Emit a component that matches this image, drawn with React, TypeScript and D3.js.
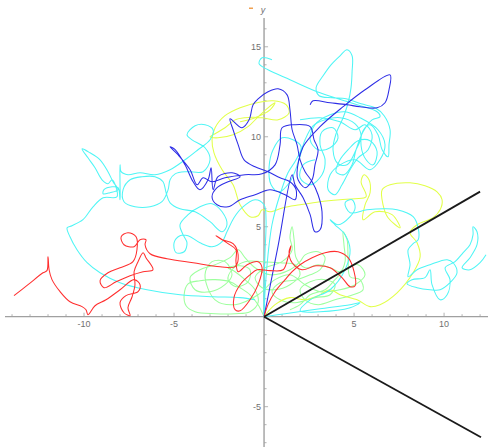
import React, { useEffect, useRef } from 'react';
import * as d3 from 'd3';

type Pt = [number, number];

// traced walks (x, y in plot units)
const redPath: Pt[] = [
  [0, 0], [0.22, 0.67], [0.61, 1.39], [1.17, 2.06], [1.56, 2.5], [2, 2.89], [2.67, 3.28], [3.39, 3.56], [4.11, 3.61],
  [4.67, 3.28], [5, 2.5], [5.06, 1.72], [4.78, 1.67], [4.33, 2.17], [3.67, 2.72], [2.89, 2.83], [2.11, 2.61], [1.56, 3],
  [1.39, 3.61], [1.5, 3.94], [1.33, 3.28], [1.06, 2.61], [0.33, 2.56], [-0.39, 2.61], [-0.78, 2.33], [-1.33, 1.78],
  [-1.67, 1.06], [-1.61, 0.39], [-1.33, 0.33], [-0.78, 0.94], [-0.33, 1.78], [-0.11, 2.72], [-0.33, 3.06], [-0.94, 2.89],
  [-1.44, 2.5], [-1.56, 3.06], [-1.56, 3.72], [-2, 4.06], [-2.67, 4.5], [-2.33, 4.28], [-1.72, 4.06], [-1.44, 3.44],
  [-1.61, 2.78], [-2.44, 2.78], [-3.94, 3], [-5.39, 3.22], [-6.33, 3.5], [-6.61, 4], [-6.56, 4.28], [-6.89, 4.28],
  [-7.22, 3.89], [-7.78, 4], [-7.94, 4.44], [-7.56, 4.67], [-7.11, 4.44], [-7.06, 3.72], [-7.28, 3.06], [-8, 2.72],
  [-8.67, 2.44], [-9.11, 2], [-8.89, 1.61], [-8.22, 1.94], [-7.44, 2.28], [-6.72, 2.5], [-6.17, 2.61], [-6.56, 3.28],
  [-6.72, 3.56], [-7, 3.06], [-7.22, 2.5], [-7.17, 1.78], [-7.33, 1.11], [-7.56, 0.5], [-7.44, 0.06], [-7.78, 0.22],
  [-8, 0.78], [-7.67, 1.17], [-7, 1.39], [-6.89, 1.78], [-7.22, 2.06], [-8, 1.5], [-8.78, 0.94], [-9.39, 0.61],
  [-9.78, 0.11], [-9.89, 0.39], [-10.11, 0.56], [-10.78, 0.83], [-11.33, 1.39], [-11.78, 2.06], [-11.94, 2.61],
  [-12, 3.33], [-12.06, 2.56], [-12.28, 2.44], [-13.11, 1.78], [-13.89, 1.17],
];

const bluePath: Pt[] = [
  [0, 0], [0.78, 3.94], [1.56, 7.89], [1.72, 7.33], [2.17, 6.61], [2.56, 5.67], [2.83, 4.72], [3.11, 4.83], [3.22, 5.83],
  [3, 6.78], [2.67, 7.5], [2.28, 8.06], [2, 8.72], [1.83, 9.56], [1.56, 10.39], [1.44, 11.5], [1.28, 12.33], [0.78, 12.67],
  [0.22, 12.5], [-0.33, 12.11], [-0.61, 11.78], [-0.83, 10.94], [-1.22, 10.5], [-1.89, 11], [-1.72, 10.39], [-1.44, 9.56],
  [-1.11, 8.72], [-0.5, 8.33], [0.22, 8.06], [0.89, 7.72], [1.44, 7.5], [1.78, 7.06], [1.72, 6.5], [1.17, 6.78],
  [0.33, 7.06], [-0.5, 6.78], [-1.33, 6.5], [-2, 6.11], [-2.61, 6.22], [-2.89, 6.67], [-2.61, 7.17], [-2, 7.5],
  [-1.33, 7.78], [-1.78, 8], [-2.56, 7.78], [-2.83, 7.06], [-2.94, 8.28], [-3.11, 7.61], [-3.56, 7.06], [-3.94, 7.5],
  [-4.39, 8.44], [-4.94, 9.28], [-5.22, 9.44], [-4.78, 9], [-4.11, 8.17], [-3.72, 7.33], [-3.39, 7.72], [-2.89, 7.5],
  [-2.17, 7.72], [-1.06, 7.89], [-0.11, 7.94], [0.61, 8.44], [0.89, 9.56], [1, 10.5], [1.72, 10.67], [2.56, 10.56],
  [2.78, 9.83], [3, 9.28], [2.83, 8.44], [2.67, 7.61], [2.28, 7.17], [1.89, 7.61], [1.83, 8], [2.17, 9.44], [3.11, 10.56],
  [4.39, 11.67], [5.61, 12.61], [7, 13.44], [6.94, 12.61], [6.72, 11.89], [6.28, 11.61], [5.33, 11.67], [4.61, 11.78],
  [3.67, 11.89], [2.72, 12], [2.56, 11.78],
];

const yellowPath: Pt[] = [
  [0, 0], [0.61, 0.67], [1.44, 1.06], [2.28, 0.94], [3, 1.17], [3.67, 1.5], [4.22, 1.22], [5.17, 0.94], [5.89, 0.56],
  [6.44, 0.67], [7.39, 1.33], [8.28, 2.44], [8.67, 3.33], [8.5, 4.11], [8.11, 4.67], [8.5, 5.11], [9.39, 5.5], [9.78, 5.94],
  [9.89, 6.5], [9.61, 6.94], [8.94, 7.28], [8.11, 7.44], [7, 7.33], [6.56, 7.06], [6.61, 6.22], [6.89, 5.5], [7.56, 4.94],
  [7.11, 5.67], [6.17, 5.83], [5.5, 5.39], [5.61, 6.22], [5.89, 6.89], [5.83, 7.61], [5.56, 7.89], [5.39, 7.5],
  [5.67, 6.67], [5.06, 6.56], [4.22, 6.5], [3.11, 6.39], [2, 6.22], [1.06, 6.06], [0.33, 5.83], [-0.11, 5.94],
  [-0.33, 5.61], [-0.78, 5.56], [-1.33, 6.22], [-1.72, 7.33], [-2.33, 8.17], [-2.78, 9.11], [-2.89, 9.83], [-2.72, 10.5],
  [-2.17, 11.17], [-1.33, 11.61], [-0.39, 11.89], [0.5, 12], [1.22, 11.78], [1.39, 11.33], [0.78, 10.94], [-0.11, 11.06],
  [-1.06, 11.06], [-1.61, 10.94], [-2.17, 10.5], [-2.72, 10.17], [-3, 10], [-2.56, 9.94], [-1.72, 10.11], [-0.89, 10.56],
  [-0.33, 11.11], [0.22, 11.61], [0.61, 11.89], [0.33, 11.5], [-0.5, 11.06], [-1.33, 10.83],
];

const cyanLeftPath: Pt[] = [
  [0, 0], [0, 1.78], [0.06, 3.72], [0.11, 5.39], [0, 6.22], [-0.5, 6.5], [-1.22, 6.06], [-1.67, 5.5], [-2.06, 4.72],
  [-2.33, 4.17], [-2.89, 3.89], [-3.56, 4.11], [-4.22, 4.5], [-4.67, 4.5], [-5, 4.11], [-4.89, 3.56], [-4.44, 3.61],
  [-4.28, 4.11], [-4.5, 4.56], [-4.67, 5.11], [-4.22, 5.67], [-3.56, 6.11], [-2.89, 6.28], [-2.33, 5.83], [-2.06, 5.11],
  [-2.33, 4.72], [-3, 5.28], [-3.83, 5.83], [-4.67, 6], [-5.22, 6.33], [-5.44, 6.89], [-5.61, 7.5], [-6.06, 7.78],
  [-6.78, 7.78], [-7.44, 7.61], [-7.83, 7.06], [-7.78, 6.39], [-7.17, 6.11], [-6.33, 6.11], [-5.67, 6.39], [-5.33, 7.06],
  [-5.22, 7.61], [-4.94, 7.94], [-4.28, 8.06], [-3.39, 8.06], [-3, 8.72], [-3.28, 9.39], [-4, 9.83], [-4.28, 10.11],
  [-3.83, 10.61], [-3.28, 10.67], [-2.83, 10.39], [-3, 9.83], [-3.67, 9.28], [-4.39, 8.72], [-5.22, 8.17], [-6.06, 7.89],
  [-6.89, 8], [-7.56, 7.89], [-7.94, 8.06], [-8, 8.44], [-8, 7.33], [-8, 6.5], [-8.11, 7.17], [-8.44, 7.22], [-8.89, 7.06],
  [-8.94, 6.83], [-8.56, 6.89], [-8.11, 7.06], [-8.39, 7.5], [-8.67, 8.06], [-9.11, 8.72], [-9.67, 9.11], [-10.11, 9.33],
  [-9.78, 8.83], [-9.39, 8.28], [-9, 7.61], [-8.67, 7.39], [-8.44, 7.61], [-8.17, 6.67], [-8.94, 6.61], [-9.5, 6.11],
  [-10.06, 5.39], [-10.67, 5.06], [-10.94, 4.94], [-10.78, 4.44], [-10.39, 3.72], [-9.83, 3], [-9.11, 2.44], [-8, 1.89],
  [-6.5, 1.5], [-4.67, 1.22], [-2.83, 1.11], [-1.33, 1.06], [-0.5, 0.94],
];

const cyanTopPath: Pt[] = [
  [0, 0], [0.06, 1.5], [0.22, 3.44], [0.44, 5.11], [0.83, 6.61], [1.33, 8], [1.78, 8.72], [2.06, 9.44], [1.61, 9.83],
  [1, 9.94], [0.5, 9.28], [0.28, 8.33], [0.39, 7.33], [0.83, 6.94], [1.44, 7.5], [1.89, 8.56], [2.28, 9.83], [2.72, 10.61],
  [3.39, 10.94], [4.22, 11.06], [5.06, 10.72], [5.39, 10.06], [5.11, 9.28], [4.61, 8.44], [4.11, 8.5], [3.83, 9.28],
  [4, 10.17], [4.39, 11.06], [4.67, 11.89], [4.83, 12.72], [4.89, 13.61], [4.89, 14.5], [4.61, 14.83], [4.22, 14.5],
  [3.72, 14], [3.28, 13.39], [2.89, 12.72], [3.06, 12.28], [3.78, 12.17], [4.56, 12.11], [5.39, 11.83], [6.17, 11.61],
  [6.67, 11.17], [7, 10.39], [6.94, 9.56], [6.89, 8.89], [6.56, 9.28], [6.33, 10.11], [5.89, 10.67], [5.5, 10.33],
  [5.39, 9.5], [5.67, 8.72], [6.06, 8.44], [6.28, 9.17], [5.89, 9.78], [5.22, 9.78], [4.67, 9.28], [4.22, 8.72], [4, 8.06],
  [4.44, 7.89], [4.89, 8.44], [5.11, 9.28], [5.5, 10.28], [6, 10.94], [6.44, 11.11], [6.28, 11.39], [5.17, 11.78],
  [3.11, 12.44], [1.44, 13.17], [0.22, 13.72], [-0.28, 14.06], [-0.11, 14.39], [0.44, 14.28],
];

const cyanClusterPath: Pt[] = [
  [2, 10.94], [3.11, 11.06], [4.22, 10.83], [5.06, 10.39], [5.61, 10.67], [6, 10.11], [5.78, 9.28], [5.22, 8.83],
  [4.78, 8.17], [4.33, 7.33], [3.94, 6.78], [3.56, 7.06], [3.67, 7.89], [4.22, 8.44], [5.06, 8.72], [5.89, 8.17],
  [6.44, 8.72], [6.72, 9.56], [6.33, 10.39], [5.33, 11.06], [4.5, 11.39], [3.67, 11.22], [2.83, 10.67], [2.56, 9.83],
  [3, 9.28], [3.67, 9.39], [4.11, 9.94], [3.83, 10.5], [3.22, 10.28], [3.11, 9.56], [3.39, 8.72], [3.22, 7.89],
  [2.56, 7.33], [2, 7.72], [2.17, 8.44], [2.83, 8.72],
];

const cyanRightPath: Pt[] = [
  [0, 0], [1.17, 0.17], [3.11, 0.44], [4.78, 0.67], [5.33, 0.78], [4.78, 0.5], [3.11, 0.28], [2, 0.33], [2.56, 0.94],
  [3.67, 1.5], [4.5, 2.61], [4.78, 3.72], [4.5, 4.56], [3.94, 5.11], [3.67, 5.39], [4.11, 5.11], [4.78, 5.56], [5.06, 6.06],
  [4.89, 6.5], [4.5, 6.33], [4.78, 5.78], [5.72, 5.94], [6.72, 6], [7.39, 5.94], [8.28, 5.56], [8.56, 4.94], [8.56, 4.28],
  [8.28, 4.06], [8, 3.72], [8.11, 2.89], [8, 2.22], [8.5, 2.61], [9.22, 2.89], [10.17, 3.17], [10.5, 3], [10.72, 2.44],
  [10.33, 1.89], [9.78, 1.5], [9.22, 1.5], [8.5, 1.61], [7.94, 1.83], [8.22, 2.06], [8.94, 2.17], [9.22, 2.61],
  [9.33, 1.78], [9.78, 0.94], [10.17, 1.22], [10.33, 2.06], [10.06, 2.72], [10.61, 3.06], [11.06, 3.56], [11.44, 4],
  [11.61, 4.56], [11.61, 5], [11.83, 4.72], [11.83, 4], [11.44, 3.28], [11, 2.72], [11.44, 2.61], [12, 3], [12.33, 3.44],
];

const greenPath: Pt[] = [
  [0, 0], [-0.33, 0.67], [-0.78, 1.22], [-1.33, 1.61], [-1.89, 1.94], [-2.72, 2.06], [-3.56, 2], [-4.22, 1.83],
  [-4.44, 1.22], [-4.33, 0.61], [-3.83, 0.28], [-2.72, 0.17], [-1.61, 0.17], [-0.78, 0.28], [-0.33, 0.78], [-0.5, 1.5],
  [-1.06, 2.06], [-1.61, 2.5], [-2, 2.72], [-1.33, 2.83], [-0.78, 2.61], [-0.89, 1.94], [-1.56, 1.67], [-2, 2.06],
  [-1.78, 2.61], [-1.06, 3.06], [-0.11, 3.06], [0.89, 3], [1.72, 2.89], [2, 2.33], [1.44, 1.78], [0.61, 1.5], [-0.11, 1.61],
  [-0.5, 2.17], [0.06, 2.72], [1, 3.06], [1.56, 3.72], [1.44, 4.39], [1.56, 5], [1.67, 4.28], [1.78, 3.28], [2.28, 2.72],
  [3, 2.89], [3.67, 2.72], [4.22, 2.5], [4.5, 3.06], [4.44, 4], [4.39, 4.72], [4.61, 4.28], [4.67, 3.17], [4.78, 2.22],
  [5.33, 2.06], [5.5, 1.5], [4.78, 1.17], [3.94, 0.94], [3, 0.67], [2.28, 0.94], [2, 1.5], [2.56, 1.94], [3.39, 2.06],
  [3.94, 1.78], [3.67, 1.22], [2.83, 1.06], [1.72, 0.78], [0.89, 0.94], [0.44, 1.39], [0.89, 1.89], [1.83, 2.06],
  [2.56, 2.33], [3.11, 2.61], [3.39, 3.28], [3, 3.61], [2.28, 3.44], [2, 3.06], [1.44, 2.61], [0.33, 2.33], [-0.5, 2.72],
  [-1.06, 3.28], [-1.44, 3.72], [-1.89, 3.28], [-2.72, 2.89], [-3.56, 2.61], [-4.11, 2.17], [-3.83, 1.5], [-3, 1.39],
  [-2.17, 1.78], [-1.78, 2.33], [-2.17, 3.06], [-2.89, 3.06], [-3.28, 2.33], [-2.72, 0.94], [-1.61, 0.67], [-0.33, 1.22],
  [0.61, 2.06], [1.44, 2.33], [2.28, 1.78], [3.11, 1.39], [4.22, 1.5], [5.06, 1.78], [5.61, 2.33], [5.22, 2.89],
  [4.5, 2.61], [3.94, 2.06], [3.39, 1.5], [2.56, 1.22], [2, 0.67], [1.44, 0.39],
];

const rayEnds: Pt[] = [[12, 6.95], [12.05, -6.7]];

const xTicks = [-10, -5, 5, 10];
const yTicks = [15, 10, 5, -5];

const walks = [
  { pts: greenPath, color: '#9dff9d' },
  { pts: yellowPath, color: '#e2ff48' },
  { pts: cyanLeftPath, color: '#4ff5f5' },
  { pts: cyanTopPath, color: '#4ff5f5' },
  { pts: cyanClusterPath, color: '#4ff5f5' },
  { pts: cyanRightPath, color: '#4ff5f5' },
  { pts: bluePath, color: '#2d2de6' },
  { pts: redPath, color: '#ff2e2e' },
];

const W = 488;
const H = 447;

export default function App() {
  const ref = useRef<SVGSVGElement>(null);

  useEffect(() => {
    const svg = d3.select(ref.current);
    svg.selectAll('*').remove();

    const x = d3.scaleLinear().domain([-14.39, 12.44]).range([5, 488]);
    const y = d3.scaleLinear().domain([-7.24, 16.6]).range([447, 18]);

    const axisColor = '#a0a0a0';
    const labelFont = '"Liberation Sans", Arial, sans-serif';

    // axes
    svg.append('line')
      .attr('x1', x(-14.39)).attr('x2', x(12.44))
      .attr('y1', y(0)).attr('y2', y(0))
      .attr('stroke', axisColor).attr('stroke-width', 1.2);
    svg.append('line')
      .attr('x1', x(0)).attr('x2', x(0))
      .attr('y1', y(16.6)).attr('y2', y(-7.24))
      .attr('stroke', axisColor).attr('stroke-width', 1.4);

    // minor + major ticks
    d3.range(-14, 13).filter((v) => v !== 0).forEach((v) => {
      const len = v % 5 === 0 ? 4 : 2.5;
      svg.append('line')
        .attr('x1', x(v)).attr('x2', x(v))
        .attr('y1', y(0)).attr('y2', y(0) - len)
        .attr('stroke', axisColor).attr('stroke-width', 0.8);
    });
    d3.range(-7, 17).filter((v) => v !== 0).forEach((v) => {
      const len = v % 5 === 0 ? 4 : 2.5;
      svg.append('line')
        .attr('x1', x(0)).attr('x2', x(0) + len)
        .attr('y1', y(v)).attr('y2', y(v))
        .attr('stroke', axisColor).attr('stroke-width', 0.8);
    });

    svg.selectAll('.xt').data(xTicks).enter().append('text')
      .attr('x', (d) => x(d)).attr('y', y(0) + 10)
      .attr('text-anchor', 'middle')
      .attr('font-family', labelFont).attr('font-size', 9)
      .attr('fill', '#707070')
      .text((d) => String(d));
    svg.selectAll('.yt').data(yTicks).enter().append('text')
      .attr('x', x(0) - 3).attr('y', (d) => y(d) + 3)
      .attr('text-anchor', 'end')
      .attr('font-family', labelFont).attr('font-size', 9)
      .attr('fill', '#707070')
      .text((d) => String(d));

    svg.append('text')
      .attr('x', x(0) - 1).attr('y', 13)
      .attr('text-anchor', 'middle')
      .attr('font-family', labelFont).attr('font-size', 9)
      .attr('font-style', 'italic')
      .attr('fill', '#707070')
      .text('y');
    svg.append('rect')
      .attr('x', 249).attr('y', 7.5).attr('width', 4).attr('height', 1.5)
      .attr('fill', '#f0a050');

    const line = d3.line<Pt>()
      .x((d) => x(d[0]))
      .y((d) => y(d[1]))
      .curve(d3.curveCatmullRom.alpha(0.5));

    walks.forEach((w) => {
      svg.append('path')
        .attr('d', line(w.pts))
        .attr('fill', 'none')
        .attr('stroke', w.color)
        .attr('stroke-width', 1.05)
        .attr('stroke-linejoin', 'round');
    });

    // rays from origin
    rayEnds.forEach((p) => {
      svg.append('line')
        .attr('x1', x(0)).attr('y1', y(0))
        .attr('x2', x(p[0])).attr('y2', y(p[1]))
        .attr('stroke', '#1a1a1a').attr('stroke-width', 1.8);
    });
  }, []);

  return (
    <svg
      ref={ref}
      width={W}
      height={H}
      style={{ position: 'absolute', left: 0, top: 0, background: '#fff' }}
    />
  );
}
